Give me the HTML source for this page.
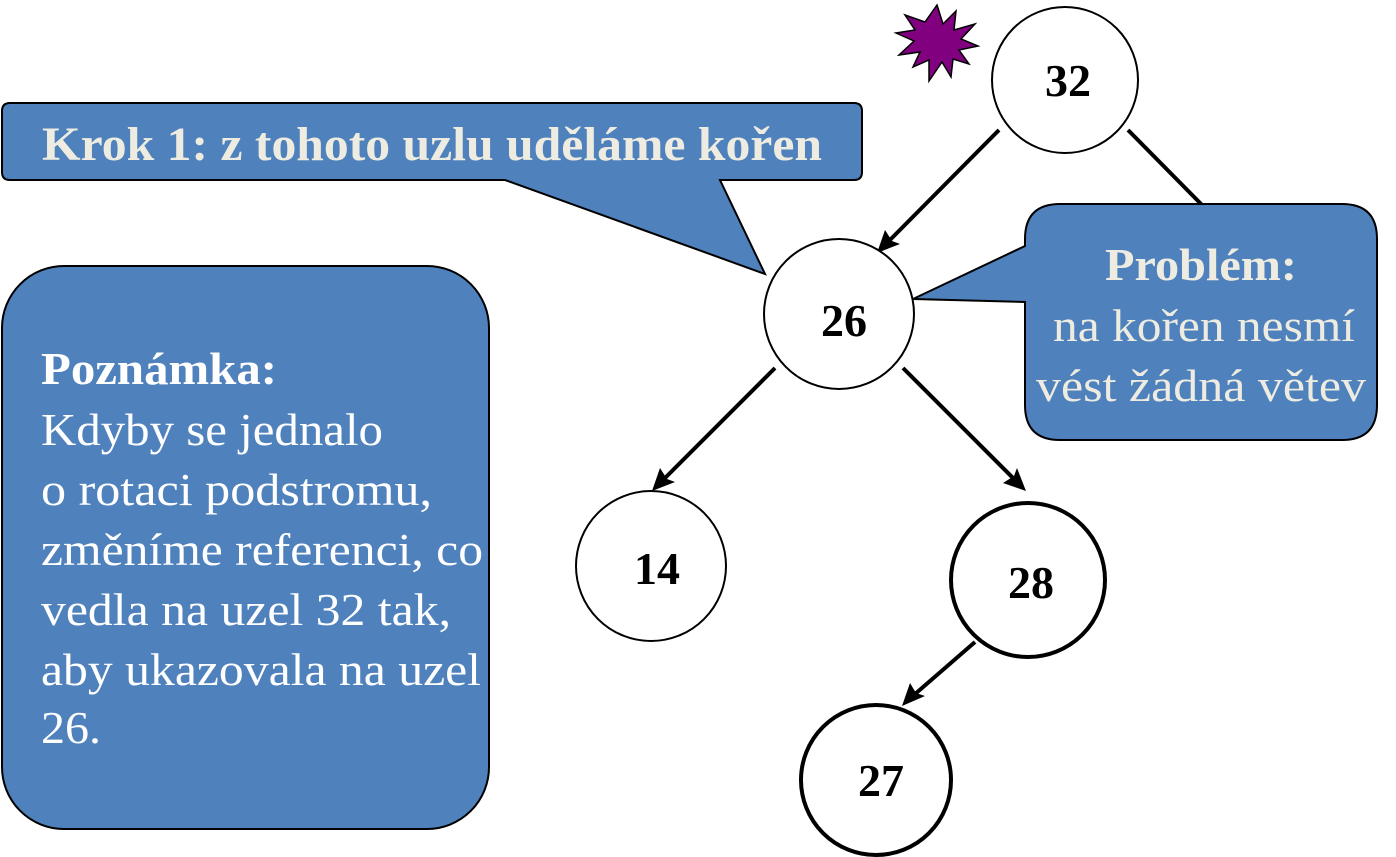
<!DOCTYPE html>
<html><head><meta charset="utf-8"><style>
html,body{margin:0;padding:0;background:#fff;}
svg{display:block;}
text{font-family:"Liberation Serif","DejaVu Serif",serif;}
</style></head><body>
<svg width="1396" height="857" viewBox="0 0 1396 857" xmlns="http://www.w3.org/2000/svg">
<!-- edges -->
<g stroke="#000" stroke-width="4" fill="none">
<line x1="999" y1="130" x2="882" y2="248"/>
<line x1="1128" y1="130" x2="1205" y2="208"/>
<line x1="775" y1="368" x2="657" y2="486"/>
<line x1="903" y1="368" x2="1021" y2="486"/>
<line x1="975" y1="642" x2="907" y2="701"/>
</g>
<g fill="#000">
<polygon points="877,253 885,230 892,241 900,244"/>
<polygon points="652,491 660,468 667,479 675,482"/>
<polygon points="1026,491 1003,483 1014,476 1017,468"/>
<polygon points="902,706 910,683 916,693 925,696"/>
</g>
<!-- nodes -->
<g fill="#fff" stroke="#000">
<circle cx="1065" cy="80" r="73" stroke-width="2"/>
<circle cx="839" cy="314" r="75" stroke-width="2"/>
<circle cx="651" cy="566" r="75" stroke-width="2"/>
<circle cx="1028" cy="580" r="77" stroke-width="4"/>
<circle cx="876" cy="780" r="75" stroke-width="4"/>
</g>
<g font-weight="bold" font-size="46" text-anchor="middle">
<text x="1068" y="96">32</text>
<text x="844" y="336">26</text>
<text x="657" y="584">14</text>
<text x="1031" y="598">28</text>
<text x="881" y="796">27</text>
</g>
<!-- star -->
<polygon fill="#800080" stroke="#000" stroke-width="1.5" points="
937,5 943,24 956,11 954,30 975,24 961,39 978,46 959,50 969,64 953,59 951,77 942,62 929,81 929,60 913,67 920,52 899,55 914,41 896,33 915,30 905,15 925,22"/>
<!-- top callout -->
<path d="M10,103 H854 Q862,103 862,111 V172 Q862,180 854,180 H720 L765,274 L505,180 H10 Q2,180 2,172 V111 Q2,103 10,103 Z" fill="#4F81BD" stroke="#000" stroke-width="2"/>
<text x="42" y="160" font-size="48" font-weight="bold" fill="#EEECE1" textLength="780" lengthAdjust="spacingAndGlyphs">Krok 1: z tohoto uzlu uděláme kořen</text>
<!-- right callout -->
<path d="M1060,204 H1342 Q1377,204 1377,239 V405 Q1377,440 1342,440 H1060 Q1025,440 1025,405 V302 L913,299 L1025,246 V239 Q1025,204 1060,204 Z" fill="#4F81BD" stroke="#000" stroke-width="2"/>
<g fill="#EEECE1" font-size="46">
<text x="1105" y="280" font-weight="bold" textLength="192" lengthAdjust="spacingAndGlyphs">Problém:</text>
<text x="1053" y="341" textLength="302" lengthAdjust="spacingAndGlyphs">na kořen nesmí</text>
<text x="1036" y="401" textLength="330" lengthAdjust="spacingAndGlyphs">vést žádná větev</text>
</g>
<!-- left box -->
<rect x="2" y="266" width="487" height="563" rx="62" ry="62" fill="#4F81BD" stroke="#000" stroke-width="2"/>
<g fill="#fff" font-size="46">
<text x="41" y="384" font-weight="bold" textLength="236" lengthAdjust="spacingAndGlyphs">Poznámka:</text>
<text x="41" y="445" textLength="342" lengthAdjust="spacingAndGlyphs">Kdyby se jednalo</text>
<text x="41" y="505" textLength="391" lengthAdjust="spacingAndGlyphs">o rotaci podstromu,</text>
<text x="41" y="565" textLength="442" lengthAdjust="spacingAndGlyphs">změníme referenci, co</text>
<text x="41" y="625" textLength="410" lengthAdjust="spacingAndGlyphs">vedla na uzel 32 tak,</text>
<text x="41" y="685" textLength="440" lengthAdjust="spacingAndGlyphs">aby ukazovala na uzel</text>
<text x="41" y="743" textLength="60" lengthAdjust="spacingAndGlyphs">26.</text>
</g>
</svg>
</body></html>
